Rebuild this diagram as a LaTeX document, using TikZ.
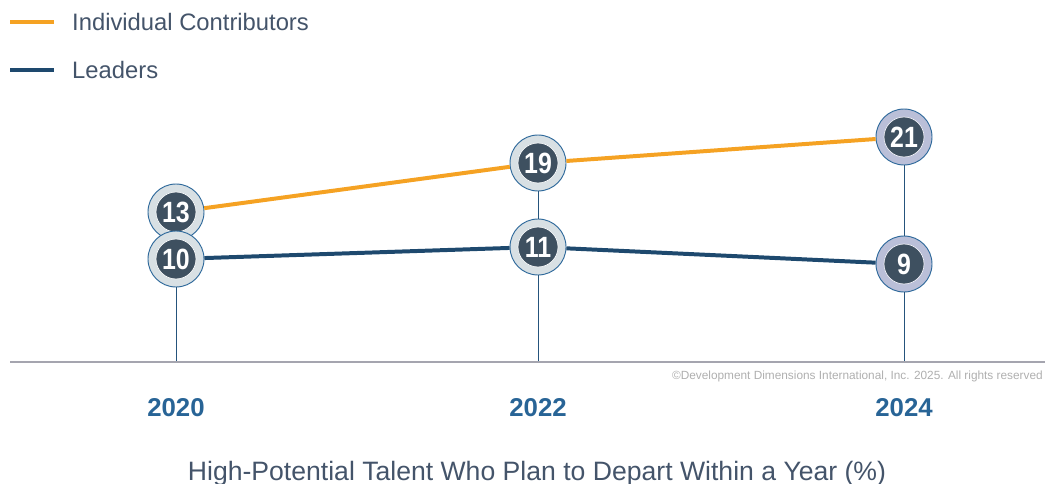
\documentclass[tikz,border=0pt]{standalone}
\usepackage{fontspec}
\setmainfont{Liberation Sans}
\usepackage{xcolor}
\usepackage{tikz}

\definecolor{icorange}{RGB}{245,162,35}
\definecolor{leadnavy}{RGB}{30,73,110}
\definecolor{ringfill}{RGB}{216,224,228}
\definecolor{lavfill}{RGB}{186,191,216}
\definecolor{ringedge}{RGB}{46,105,155}
\definecolor{dotfill}{RGB}{62,80,96}
\definecolor{axisgray}{RGB}{165,165,175}
\definecolor{labeltext}{RGB}{68,84,106}
\definecolor{yeartext}{RGB}{40,100,150}
\definecolor{copytext}{RGB}{175,175,175}

\newcommand{\ringnum}[1]{\scalebox{0.85}[1]{#1}}

\begin{document}
\begin{tikzpicture}[
  x=0.03cm, y=-0.03cm,
  every node/.style={inner sep=0pt},
  ring/.style={circle, draw=ringedge, line width=0.8pt, fill=#1, minimum size=1.68cm,
    text=white, font=\bfseries\fontsize{25}{25}\selectfont,
    path picture={\filldraw[fill=dotfill, draw=white!75!#1, line width=0.6pt]
      (path picture bounding box.center) circle (0.6cm);}},
  ring/.default=ringfill,
  icline/.style={draw=icorange, line width=3.4pt},
  leadline/.style={draw=leadnavy, line width=3.4pt},
  stem/.style={draw=ringedge!80!black, line width=0.8pt},
  legend/.style={anchor=west, text=labeltext, font=\fontsize{20.3}{20.3}\selectfont},
  year/.style={text=yeartext, font=\bfseries\fontsize{22}{22}\selectfont}
]
\useasboundingbox (0,0) rectangle (1045,484);

% legend
\coordinate (lg1a) at (10,22);
\coordinate (lg1b) at (54,22);
\coordinate (lg2a) at (10,70);
\coordinate (lg2b) at (54,70);
\draw[icline] (lg1a) -- (lg1b);
\draw[leadline] (lg2a) -- (lg2b);
\node[legend] (lgic) at (72,22) {Individual Contributors};
\node[legend] (lglead) at (72,70) {Leaders};

% axis
\coordinate (axl) at (10,362);
\coordinate (axr) at (1045,362);
\coordinate (a20) at (176,362);
\coordinate (a22) at (538,362);
\coordinate (a24) at (904,362);

% data points
\node[ring] (n13) at (176,212) {\ringnum{13}};
\node[ring] (n10) at (176,259) {\ringnum{10}};
\node[ring] (n19) at (538,163) {\ringnum{19}};
\node[ring] (n11) at (538,247) {\ringnum{11}};
\node[ring=lavfill] (n21) at (904,137) {\ringnum{21}};
\node[ring=lavfill] (n9) at (904,264) {\ringnum{9}};

\draw[stem] (n10) -- (a20);
\draw[stem] (n19) -- (n11);
\draw[stem] (n11) -- (a22);
\draw[stem] (n21) -- (n9);
\draw[stem] (n9) -- (a24);
\draw[draw=axisgray, line width=1.8pt] (axl) -- (axr);

\draw[icline] (n13) -- (n19);
\draw[icline] (n19) -- (n21);
\draw[leadline] (n10) -- (n11);
\draw[leadline] (n11) -- (n9);

% labels
\node[anchor=east, text=copytext, font=\fontsize{10.1}{10.1}\selectfont] (copy) at (1043,376)
  {\textcopyright Development Dimensions International, Inc. 2025. All rights reserved};
\node[year] (y20) at (176,408) {2020};
\node[year] (y22) at (538,408) {2022};
\node[year] (y24) at (904,408) {2024};
\node[anchor=base, text=labeltext, font=\fontsize{22.7}{22.7}\selectfont] (title) at (537,480)
  {High-Potential Talent Who Plan to Depart Within a Year (\%)};
\end{tikzpicture}
\end{document}
